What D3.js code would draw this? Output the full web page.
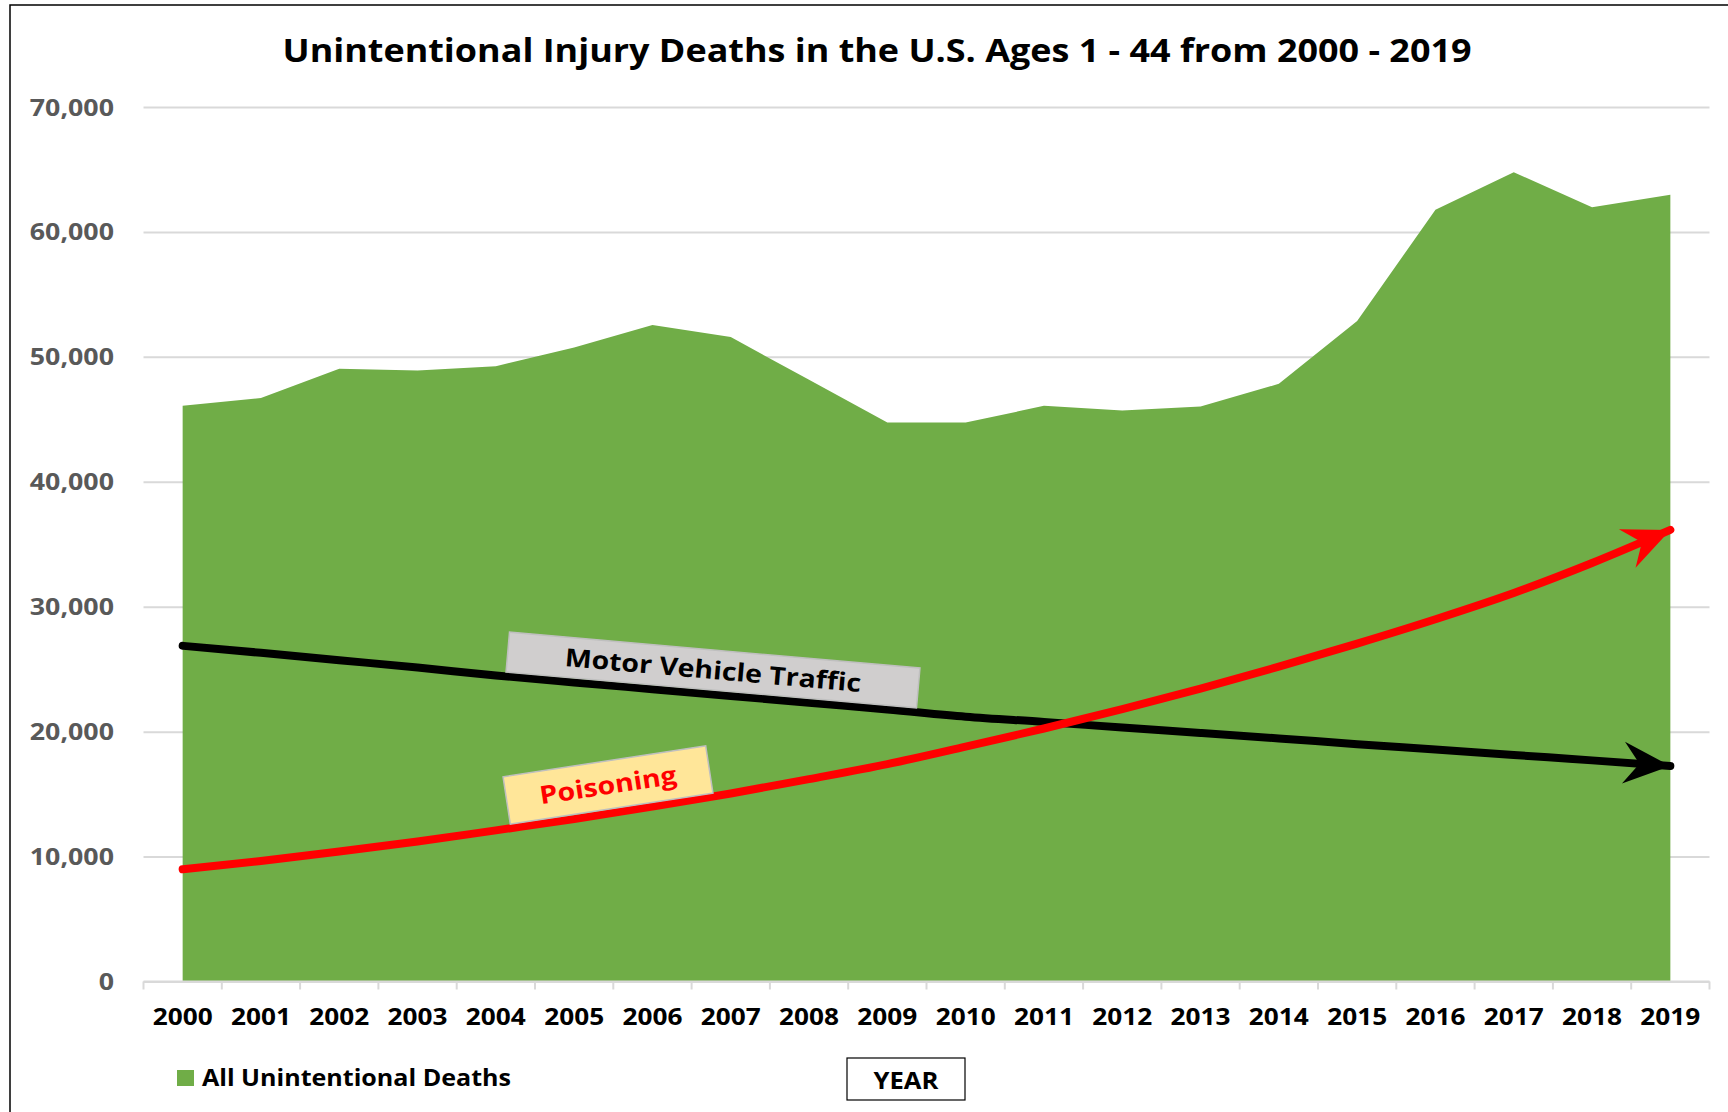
<!DOCTYPE html>
<html>
<head>
<meta charset="utf-8">
<script src="https://cdn.jsdelivr.net/npm/d3@7"></script>
<style>
  html, body { margin: 0; padding: 0; background: #fff; }
  svg { display: block; font-family: "Open Sans", "DejaVu Sans", sans-serif; }
</style>
</head>
<body>
<svg id="chart" width="1728" height="1112"></svg>
<script>
// Yearly categories
const years = ["2000","2001","2002","2003","2004","2005","2006","2007","2008","2009",
               "2010","2011","2012","2013","2014","2015","2016","2017","2018","2019"];

// All unintentional injury deaths, ages 1-44
const allDeaths = [46080, 46710, 49040, 48900, 49250, 50750, 52560, 51580, 48160, 44740,
                   44740, 46080, 45700, 46020, 47840, 52880, 61770, 64780, 61980, 62970];

// Motor vehicle traffic trend
const motorVehicle = [26870, 26310, 25720, 25130, 24500, 23940, 23400, 22860, 22310, 21780,
                      21200, 20780, 20330, 19900, 19460, 19000, 18570, 18130, 17700, 17250];

// Poisoning trend
const poisoning = [8980, 9650, 10400, 11200, 12100, 13000, 14000, 15050, 16200, 17400,
                   18800, 20250, 21800, 23450, 25200, 27050, 29000, 31100, 33500, 36150];

// Value-axis ticks
const yTicks = [0, 10000, 20000, 30000, 40000, 50000, 60000, 70000];

const titleText = "Unintentional Injury Deaths in the U.S. Ages 1 - 44 from 2000 - 2019";
const legendText = "All Unintentional Deaths";
const xAxisTitle = "YEAR";

// ---------------------------------------------------------------
const SX = 1.14;               // horizontal widening used for most lettering
const GREEN = "#70AD47";
const GRID = "#D9D9D9";

const svg = d3.select("#chart");

const plot = { left: 143.5, right: 1709.5, top: 107, bottom: 981.5 };

const x = d3.scaleBand().domain(years).range([plot.left, plot.right]).paddingInner(0).paddingOuter(0);
const xc = d => x(d) + x.bandwidth() / 2;
const y = d3.scaleLinear().domain([0, 70000]).range([plot.bottom, plot.top]);

function label(parent, px, py, str, opt = {}) {
  return parent.append("text")
    .attr("transform", `translate(${px},${py}) scale(${opt.sx ?? SX},1)`)
    .attr("text-anchor", opt.anchor || "middle")
    .attr("font-size", opt.size || 24)
    .attr("font-weight", opt.weight || 700)
    .attr("fill", opt.fill || "#000")
    .text(str);
}

// outer frame
svg.append("path")
  .attr("d", "M10,1112 L10,5 L1728,5")
  .attr("fill", "none").attr("stroke", "#000").attr("stroke-width", 1.5);

// title
label(svg, 877, 62, titleText, { size: 32, sx: 1.123 });

// value axis with gridlines
const yAxis = d3.axisLeft(y)
  .tickValues(yTicks)
  .tickFormat(d3.format(","))
  .tickSize(-(plot.right - plot.left))
  .tickPadding(0);

const gy = svg.append("g")
  .attr("transform", `translate(${plot.left},0)`)
  .call(yAxis);
gy.select(".domain").remove();
gy.selectAll(".tick line").attr("stroke", GRID).attr("stroke-width", 2);
gy.selectAll(".tick text")
  .attr("x", null).attr("dy", null)
  .attr("transform", `translate(-29.5,8) scale(${SX},1)`)
  .attr("text-anchor", "end")
  .attr("font-family", "Open Sans")
  .attr("font-size", 23.5)
  .attr("font-weight", 700)
  .attr("fill", "#595959");

// area of all unintentional deaths
const area = d3.area()
  .x((d, i) => xc(years[i]))
  .y0(y(0))
  .y1(d => y(d));

svg.append("path")
  .datum(allDeaths)
  .attr("d", area)
  .attr("fill", GREEN);

// category axis: baseline, boundary ticks, labels
svg.append("line")
  .attr("x1", plot.left).attr("x2", plot.right)
  .attr("y1", plot.bottom).attr("y2", plot.bottom)
  .attr("stroke", GRID).attr("stroke-width", 2);

const bounds = years.map(d => x(d)).concat([plot.right]);
svg.append("g").selectAll("line")
  .data(bounds)
  .join("line")
  .attr("x1", d => d).attr("x2", d => d)
  .attr("y1", plot.bottom).attr("y2", plot.bottom + 8)
  .attr("stroke", GRID).attr("stroke-width", 2);

const gx = svg.append("g")
  .attr("transform", `translate(0,${plot.bottom})`)
  .call(d3.axisBottom(x).tickSize(0).tickPadding(0));
gx.select(".domain").remove();
gx.selectAll(".tick text")
  .attr("y", null).attr("dy", null)
  .attr("transform", `translate(0,43.5) scale(${SX},1)`)
  .attr("font-family", "Open Sans")
  .attr("font-size", 23)
  .attr("font-weight", 700)
  .attr("fill", "#000");

// arrowhead markers
const defs = svg.append("defs");
function arrow(id, color) {
  defs.append("marker")
    .attr("id", id)
    .attr("markerUnits", "userSpaceOnUse")
    .attr("viewBox", "-50 -25 55 50")
    .attr("markerWidth", 55).attr("markerHeight", 50)
    .attr("refX", 0).attr("refY", 0)
    .attr("orient", "auto")
    .append("path")
    .attr("d", "M0,0 L-47,-21 L-31,0 L-47,21 Z")
    .attr("fill", color);
}
arrow("arrow-black", "#000");
arrow("arrow-red", "#FF0000");

const trend = d3.line()
  .x((d, i) => xc(years[i]))
  .y(d => y(d))
  .curve(d3.curveMonotoneX);

svg.append("path")
  .datum(motorVehicle)
  .attr("d", trend)
  .attr("fill", "none")
  .attr("stroke", "#000")
  .attr("stroke-width", 8)
  .attr("stroke-linecap", "round")
  .attr("marker-end", "url(#arrow-black)");

svg.append("path")
  .datum(poisoning)
  .attr("d", trend)
  .attr("fill", "none")
  .attr("stroke", "#FF0000")
  .attr("stroke-width", 8)
  .attr("stroke-linecap", "round")
  .attr("marker-end", "url(#arrow-red)");

// callout boxes
function callout(cx, cy, w, h, angle, fill, text, color, size) {
  const g = svg.append("g").attr("transform", `translate(${cx},${cy}) rotate(${angle})`);
  g.append("rect")
    .attr("x", -w / 2).attr("y", -h / 2)
    .attr("width", w).attr("height", h)
    .attr("fill", fill)
    .attr("stroke", "#BFBFBF").attr("stroke-width", 1.5);
  label(g, 0, size * 0.36, text, { size, fill: color });
}
callout(713, 670, 412, 40, 5.0, "#D0CECE", "Motor Vehicle Traffic", "#000", 25);
callout(608, 785, 205, 48, -8.7, "#FFE699", "Poisoning", "#FF0000", 25);

// legend
svg.append("rect")
  .attr("x", 177).attr("y", 1070).attr("width", 17).attr("height", 16)
  .attr("fill", GREEN);
label(svg, 202, 1086, legendText, { anchor: "start", size: 24, sx: 1.045 });

// axis title box
svg.append("rect")
  .attr("x", 847).attr("y", 1058).attr("width", 118).attr("height", 42)
  .attr("fill", "#fff").attr("stroke", "#000").attr("stroke-width", 1.2);
label(svg, 906, 1089, xAxisTitle, { size: 22.5 });
</script>
</body>
</html>
